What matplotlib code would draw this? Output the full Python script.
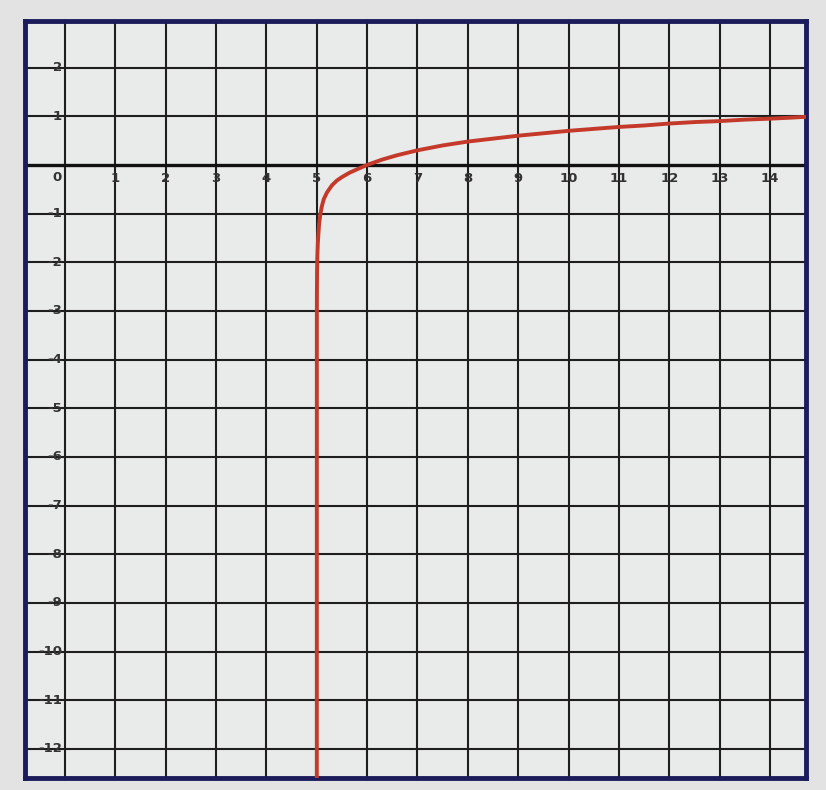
import matplotlib
matplotlib.use("Agg")
import matplotlib.pyplot as plt

# Points
curve_x = [5.0, 5.0005, 5.002, 5.005, 5.01, 5.02, 5.03, 5.045, 5.07, 5.1, 5.14, 5.2, 5.3,
           5.4, 5.5, 5.65, 5.8, 6.0, 6.3, 6.6, 7.0, 7.5, 8.0, 8.5, 9.0, 9.5, 10.0,
           10.5, 11.0, 11.5, 12.0, 12.5, 13.0, 13.5, 14.0, 14.4, 14.75]
curve_y = [-12.7, -3.3, -2.65, -2.2, -1.9, -1.62, -1.45, -1.22, -1.02, -0.85, -0.7, -0.57, -0.42,
           -0.32, -0.25, -0.16, -0.09, 0.0, 0.11, 0.2, 0.3, 0.4, 0.48, 0.54, 0.6, 0.65, 0.7,
           0.74, 0.78, 0.81, 0.85, 0.88, 0.9, 0.93, 0.95, 0.97, 0.99]

x_ticks = list(range(0, 15))
y_ticks = [2, 1, -1, -2, -3, -4, -5, -6, -7, -8, -9, -10, -11, -12]

fig = plt.figure(figsize=(8.26, 7.9), dpi=100, facecolor="#e3e3e3")
ax = fig.add_axes([0.030, 0.015, 0.946, 0.958])
ax.set_facecolor("#e8ebe9")
ax.set_xlim(-0.8, 14.72)
ax.set_ylim(-12.6, 2.95)

for xv in x_ticks:
    ax.axvline(xv, color="#1e1e1e", lw=1.5, zorder=1)
for yv in y_ticks:
    ax.axhline(yv, color="#1e1e1e", lw=1.5, zorder=1)
ax.axhline(0, color="#111111", lw=2.4, zorder=1)

ax.plot(curve_x, curve_y, color="#c5392b", lw=2.8, zorder=3, solid_capstyle="butt")

for xv in x_ticks:
    if xv == 0:
        ax.text(-0.16, -0.25, "0", ha="center", va="center", fontsize=9.5,
                fontweight="bold", color="#333333", zorder=4)
    else:
        ax.text(xv, -0.27, str(xv), ha="center", va="center", fontsize=9.5,
                fontweight="bold", color="#333333", zorder=4)
for yv in y_ticks:
    ax.text(-0.06, yv, str(yv), ha="right", va="center", fontsize=9.5,
            fontweight="bold", color="#333333", zorder=4)

ax.set_xticks([])
ax.set_yticks([])
for s in ax.spines.values():
    s.set_color("#1c1c5c")
    s.set_linewidth(3.5)

fig.savefig("out.png", dpi=100, facecolor=fig.get_facecolor())
